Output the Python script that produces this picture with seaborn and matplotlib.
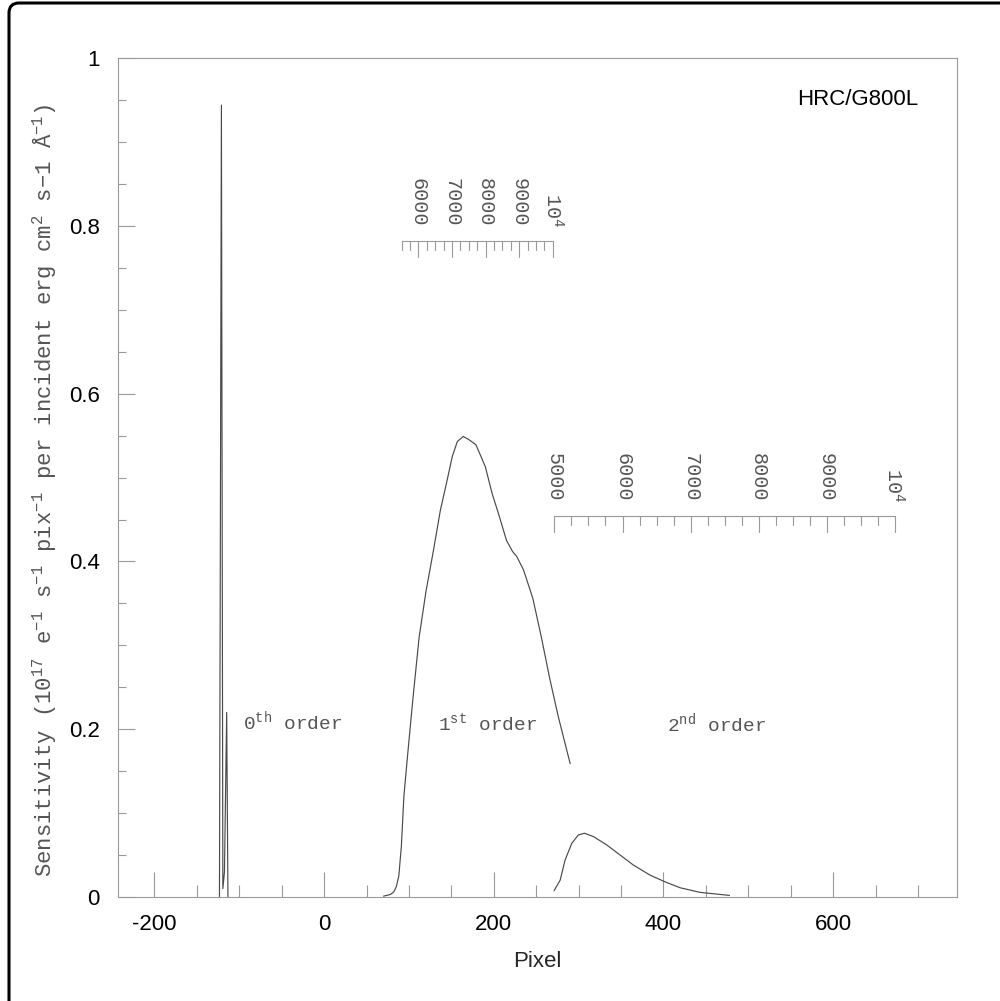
import numpy as np
import pandas as pd
import matplotlib
matplotlib.use("Agg")
import matplotlib.pyplot as plt
from matplotlib.patches import FancyBboxPatch
from matplotlib.ticker import MultipleLocator
import seaborn as sns

# ---- sensitivity curves (pixel offset vs. sensitivity) ----
order0_pixel = [-123.4, -121.1, -119.4, -117.5, -114.9, -113.4]
order0_sens = [0.0, 0.944, 0.01, 0.03, 0.22, 0.0]

order1_pixel = [70, 78, 82, 85, 88, 91, 94, 98, 104.5, 112, 120, 129, 137, 145,
                151, 157, 164, 171, 179, 190, 198, 205.5, 215, 222, 227, 235,
                246, 256, 266, 276, 283, 290]
order1_sens = [0.001, 0.003, 0.006, 0.012, 0.025, 0.06, 0.12, 0.165, 0.235, 0.31,
               0.364, 0.414, 0.461, 0.497, 0.525, 0.543, 0.549, 0.545, 0.539,
               0.513, 0.481, 0.457, 0.425, 0.412, 0.406, 0.39, 0.356, 0.31,
               0.26, 0.215, 0.187, 0.159]

order2_pixel = [271, 278.2, 284, 291.9, 299.7, 306.9, 317.5, 333.2, 348.9, 364.6,
                384.3, 402, 419.7, 443.2, 477.8]
order2_sens = [0.0075, 0.020, 0.044, 0.064, 0.074, 0.076, 0.072, 0.062, 0.050,
               0.038, 0.026, 0.018, 0.011, 0.0055, 0.0019]

# ---- wavelength scales (Angstrom) ----
wave_ticks_1st = np.arange(5500, 10001, 250)
wave_labels_1st = [6000, 7000, 8000, 9000, 10000]
wave_ticks_2nd = np.arange(5000, 10001, 250)
wave_labels_2nd = [5000, 6000, 7000, 8000, 9000, 10000]

# dispersion solutions: pixel = ref_pixel + (lambda - ref_lambda) * disp
disp_1st = dict(ref_lambda=6000.0, ref_pixel=111.2, disp=0.0396)
disp_2nd = dict(ref_lambda=5000.0, ref_pixel=271.5, disp=0.0802)

order_names = ["0$^{\\rm th}$ order", "1$^{\\rm st}$ order", "2$^{\\rm nd}$ order"]

# ---- style ----
sns.set_style("white")
plt.rcParams["font.family"] = ["Liberation Sans", "DejaVu Sans"]
plt.rcParams["axes.unicode_minus"] = False
plt.rcParams["mathtext.fontset"] = "custom"
plt.rcParams["mathtext.rm"] = "Liberation Mono"
plt.rcParams["mathtext.it"] = "Liberation Mono:italic"
plt.rcParams["mathtext.bf"] = "Liberation Mono:bold"

MONO = ["Liberation Mono", "DejaVu Sans Mono"]
GREY_TEXT = "#555555"
AXIS_GREY = "#9a9a9a"
LINE = "#4a4a4a"

df = pd.concat([
    pd.DataFrame({"pixel": order0_pixel, "sensitivity": order0_sens, "order": 0}),
    pd.DataFrame({"pixel": order1_pixel, "sensitivity": order1_sens, "order": 1}),
    pd.DataFrame({"pixel": order2_pixel, "sensitivity": order2_sens, "order": 2}),
], ignore_index=True)

fig = plt.figure(figsize=(10, 10.01), dpi=100)
ax = fig.add_axes([0.118, 0.1039, 0.839, 0.838])

sns.lineplot(data=df, x="pixel", y="sensitivity", units="order", estimator=None,
             sort=False, color=LINE, lw=0.85, ax=ax)

ax.set_xlim(-243, 746)
ax.set_ylim(0, 1)

ax.xaxis.set_major_locator(MultipleLocator(200))
ax.xaxis.set_minor_locator(MultipleLocator(50))
ax.yaxis.set_major_locator(MultipleLocator(0.2))
ax.yaxis.set_minor_locator(MultipleLocator(0.05))
ax.yaxis.set_major_formatter(plt.FuncFormatter(lambda v, p: f"{v:g}"))

ax.tick_params(which="both", direction="in", color=AXIS_GREY, width=0.8,
               bottom=True, left=True, top=False, right=False,
               labelsize=16, labelcolor="black")
ax.tick_params(axis="x", which="major", length=18, pad=12)
ax.tick_params(axis="x", which="minor", length=8.6)
ax.tick_params(axis="y", which="major", length=12, pad=13)
ax.tick_params(axis="y", which="minor", length=5.5)

for s in ax.spines.values():
    s.set_color(AXIS_GREY)
    s.set_linewidth(0.8)

ax.set_xlabel("Pixel", fontsize=16, labelpad=12)
ax.set_ylabel("")
fig.text(0.045, 0.51,
         "Sensitivity (10$^{17}$ e$^{-1}$ s$^{-1}$ pix$^{-1}$ per incident erg cm$^{2}$ s\u22121 \u00c5$^{-1}$)",
         rotation=90, ha="center", va="center", family=MONO, fontsize=16,
         color=GREY_TEXT)


def draw_scale(ticks, labels, sol, base, major_len=0.019, minor_len=0.0105, gap=0.017):
    px = sol["ref_pixel"] + (np.asarray(ticks, float) - sol["ref_lambda"]) * sol["disp"]
    ax.plot([px[0], px[-1]], [base, base], color=AXIS_GREY, lw=0.8)
    for lam, x in zip(ticks, px):
        L = major_len if lam % 1000 == 0 else minor_len
        ax.plot([x, x], [base, base - L], color=AXIS_GREY, lw=0.8)
    for lam in labels:
        x = sol["ref_pixel"] + (lam - sol["ref_lambda"]) * sol["disp"]
        txt = "10$^4$" if lam == 10000 else f"{lam}"
        ax.text(x, base + gap, txt, rotation=-90, ha="center", va="bottom",
                family=MONO, fontsize=14.5, color=GREY_TEXT)


draw_scale(wave_ticks_1st, wave_labels_1st, disp_1st, base=0.782)
draw_scale(wave_ticks_2nd, wave_labels_2nd, disp_2nd, base=0.454)

order_pos = [(-95.5, 0.21), (134.4, 0.207), (404.3, 0.207)]
for name, (x, y) in zip(order_names, order_pos):
    ax.text(x, y, name, ha="left", va="center", family=MONO, fontsize=14,
            color=GREY_TEXT)

ax.text(557.6, 0.951, "HRC/G800L", ha="left", va="center", fontsize=16,
        color="black")

# page frame
frame = FancyBboxPatch((0.009, -0.05), 1.1, 1.047, transform=fig.transFigure,
                       boxstyle="round,pad=0,rounding_size=0.01",
                       fill=False, ec="black", lw=2.2, clip_on=False)
fig.patches.append(frame)

fig.savefig("out.png", dpi=100)
